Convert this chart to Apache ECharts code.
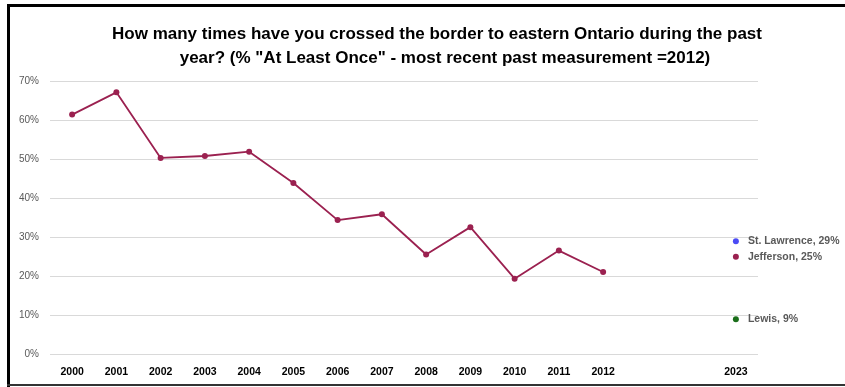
<!DOCTYPE html>
<html>
<head>
<meta charset="utf-8">
<script src="https://cdn.jsdelivr.net/npm/echarts@6/dist/echarts.min.js"></script>
<style>html,body{margin:0;padding:0;background:#fff}#c{width:845px;height:387px}</style>
</head>
<body>
<div id="c"></div>
<script>
var categories = ['2000','2001','2002','2003','2004','2005','2006','2007','2008','2009','2010','2011','2012','','','2023'];
var jeffersonTrend = [61.4, 67.1, 50.3, 50.8, 51.9, 43.9, 34.4, 35.9, 25.6, 32.6, 19.4, 26.6, 21.1, null, null, null];
var latestNames = ['St. Lawrence', 'Jefferson', 'Lewis'];
var latestValues = [29, 25, 9];
var latestColors = ['#4B4BF5', '#9B2150', '#1A6E1A'];
var yTicks = [0, 10, 20, 30, 40, 50, 60, 70];
var titleLine1 = 'How many times have you crossed the border to eastern Ontario during the past';
var titleLine2 = 'year? (% "At Least Once" - most recent past measurement =2012)';

var chart = echarts.init(document.getElementById('c'));
var lastIdx = categories.length - 1;
var series = [{
  type: 'line',
  data: jeffersonTrend,
  symbol: 'circle',
  symbolSize: 6,
  lineStyle: {color: '#9B2150', width: 1.8},
  itemStyle: {color: '#9B2150'},
  connectNulls: false,
  silent: true,
  z: 3
}];
latestNames.forEach(function (n, i) {
  var d = categories.map(function () { return null; });
  d[lastIdx] = latestValues[i];
  series.push({
    type: 'line',
    data: d,
    symbol: 'circle',
    symbolSize: 6,
    showAllSymbol: true,
    itemStyle: {color: latestColors[i]},
    lineStyle: {width: 0},
    label: {
      show: true,
      position: 'right',
      distance: 9,
      formatter: n + ', ' + latestValues[i] + '%',
      color: '#595959',
      fontWeight: 'bold',
      fontSize: 10.5,
      fontFamily: 'Liberation Sans'
    },
    z: 4
  });
});

chart.setOption({
  animation: false,
  backgroundColor: '#fff',
  title: [{
    text: titleLine1,
    left: 432, top: 21, textAlign: 'center',
    textStyle: {fontSize: 17, fontWeight: 'bold', color: '#000', fontFamily: 'Liberation Sans'}
  }, {
    text: titleLine2,
    left: 440, top: 45, textAlign: 'center',
    textStyle: {fontSize: 17, fontWeight: 'bold', color: '#000', fontFamily: 'Liberation Sans'}
  }],
  grid: {left: 50, right: 87, top: 81, bottom: 32.5, containLabel: false},
  xAxis: {
    type: 'category',
    data: categories,
    boundaryGap: true,
    axisLine: {show: false},
    axisTick: {show: false},
    axisLabel: {color: '#000', fontWeight: 'bold', fontSize: 10.5, margin: 12, interval: 0, fontFamily: 'Liberation Sans'}
  },
  yAxis: {
    type: 'value',
    min: yTicks[0],
    max: yTicks[yTicks.length - 1],
    interval: 10,
    axisLine: {show: false},
    axisTick: {show: false},
    splitLine: {lineStyle: {color: '#D9D9D9', width: 1}},
    axisLabel: {formatter: '{value}%', color: '#595959', fontSize: 10, margin: 11, fontFamily: 'Liberation Sans'}
  },
  graphic: [
    {type: 'line', shape: {x1: 7, y1: 5.5, x2: 845, y2: 5.5}, style: {stroke: '#000', lineWidth: 3}},
    {type: 'line', shape: {x1: 8.5, y1: 4, x2: 8.5, y2: 387}, style: {stroke: '#000', lineWidth: 3}},
    {type: 'line', shape: {x1: 7, y1: 385, x2: 845, y2: 385}, style: {stroke: '#333', lineWidth: 2}}
  ],
  series: series
});
</script>
</body>
</html>
